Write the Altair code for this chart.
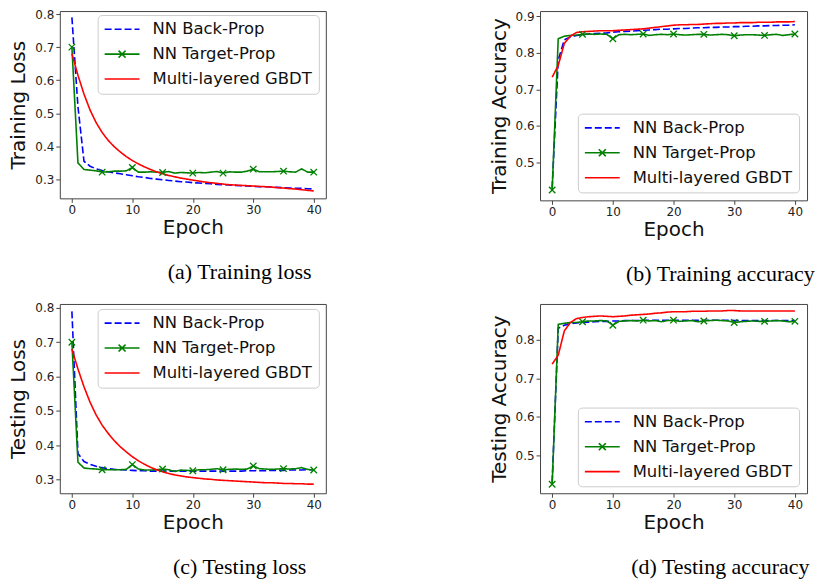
import altair as alt
import pandas as pd

EPOCHS = list(range(41))
SERIES = ["NN Back-Prop", "NN Target-Prop", "Multi-layered GBDT"]
COLORS = ["#0000ff", "#008000", "#ff0000"]
DASHES = [[7, 3], [1, 0], [1, 0]]
LINE_PATH = "M-1,0H1"
LINEX_PATH = "M-1,0H1M-0.2,-0.2L0.2,0.2M-0.2,0.2L0.2,-0.2"
SHAPES = [LINE_PATH, LINEX_PATH, LINE_PATH]
X_PATH = "M-1,-1L1,1M-1,1L1,-1"
X_TICKS = [0, 10, 20, 30, 40]

# (a) Training loss
a_bp = [0.790, 0.520, 0.355, 0.340, 0.332, 0.327, 0.323, 0.320, 0.317, 0.314,
        0.311, 0.308, 0.306, 0.303, 0.301, 0.299, 0.297, 0.295, 0.293, 0.292,
        0.290, 0.289, 0.288, 0.287, 0.285, 0.284, 0.283, 0.282, 0.281, 0.280,
        0.279, 0.278, 0.278, 0.277, 0.276, 0.275, 0.274, 0.273, 0.273, 0.272,
        0.271]
a_tp = [0.700, 0.350, 0.330, 0.328, 0.326, 0.322, 0.323, 0.325, 0.325, 0.326,
        0.336, 0.322, 0.322, 0.323, 0.322, 0.321, 0.324, 0.319, 0.321, 0.320,
        0.319, 0.321, 0.320, 0.322, 0.324, 0.319, 0.323, 0.322, 0.322, 0.325,
        0.331, 0.323, 0.323, 0.323, 0.324, 0.325, 0.323, 0.322, 0.332, 0.322,
        0.322]
a_gb = [0.680, 0.615, 0.558, 0.510, 0.472, 0.442, 0.418, 0.399, 0.383, 0.369,
        0.357, 0.347, 0.338, 0.330, 0.323, 0.317, 0.312, 0.308, 0.304, 0.301,
        0.298, 0.295, 0.292, 0.290, 0.288, 0.286, 0.284, 0.283, 0.282, 0.281,
        0.280, 0.279, 0.278, 0.277, 0.275, 0.274, 0.272, 0.271, 0.269, 0.267,
        0.265]

# (b) Training accuracy
b_bp = [0.430, 0.780, 0.835, 0.843, 0.847, 0.849, 0.851, 0.852, 0.853, 0.854,
        0.856, 0.857, 0.858, 0.859, 0.860, 0.861, 0.862, 0.863, 0.864, 0.864,
        0.865, 0.866, 0.866, 0.867, 0.868, 0.868, 0.869, 0.869, 0.870, 0.870,
        0.871, 0.871, 0.872, 0.872, 0.873, 0.873, 0.874, 0.874, 0.875, 0.875,
        0.876]
b_tp = [0.425, 0.838, 0.845, 0.847, 0.848, 0.850, 0.851, 0.850, 0.851, 0.850,
        0.838, 0.849, 0.850, 0.849, 0.850, 0.851, 0.847, 0.849, 0.850, 0.849,
        0.851, 0.849, 0.848, 0.849, 0.850, 0.850, 0.848, 0.849, 0.850, 0.849,
        0.846, 0.848, 0.849, 0.849, 0.848, 0.847, 0.849, 0.850, 0.847, 0.849,
        0.851]
b_gb = [0.733, 0.765, 0.825, 0.845, 0.855, 0.857, 0.858, 0.859, 0.860, 0.860,
        0.860, 0.861, 0.862, 0.863, 0.864, 0.865, 0.867, 0.869, 0.871, 0.873,
        0.875, 0.876, 0.876, 0.877, 0.877, 0.878, 0.879, 0.880, 0.880, 0.881,
        0.881, 0.882, 0.882, 0.882, 0.883, 0.883, 0.883, 0.884, 0.884, 0.884,
        0.885]

# (c) Testing loss
c_bp = [0.790, 0.375, 0.352, 0.344, 0.338, 0.334, 0.331, 0.329, 0.328, 0.327,
        0.326, 0.325, 0.325, 0.324, 0.324, 0.324, 0.324, 0.324, 0.324, 0.324,
        0.324, 0.324, 0.324, 0.324, 0.324, 0.324, 0.324, 0.324, 0.324, 0.325,
        0.325, 0.325, 0.325, 0.326, 0.326, 0.326, 0.327, 0.327, 0.327, 0.328,
        0.328]
c_tp = [0.700, 0.350, 0.333, 0.331, 0.330, 0.328, 0.328, 0.328, 0.328, 0.329,
        0.343, 0.330, 0.327, 0.327, 0.328, 0.330, 0.328, 0.323, 0.327, 0.326,
        0.325, 0.328, 0.328, 0.329, 0.331, 0.328, 0.329, 0.330, 0.329, 0.330,
        0.339, 0.331, 0.330, 0.329, 0.330, 0.331, 0.330, 0.331, 0.334, 0.329,
        0.327]
c_gb = [0.680, 0.622, 0.570, 0.525, 0.488, 0.458, 0.434, 0.413, 0.395, 0.380,
        0.366, 0.354, 0.344, 0.335, 0.328, 0.322, 0.317, 0.313, 0.310, 0.307,
        0.305, 0.303, 0.301, 0.300, 0.298, 0.297, 0.296, 0.295, 0.294, 0.293,
        0.292, 0.291, 0.290, 0.290, 0.289, 0.288, 0.288, 0.287, 0.287, 0.286,
        0.286]

# (d) Testing accuracy
d_bp = [0.430, 0.830, 0.838, 0.842, 0.844, 0.845, 0.846, 0.847, 0.848, 0.848,
        0.849, 0.849, 0.850, 0.850, 0.850, 0.851, 0.851, 0.851, 0.851, 0.851,
        0.851, 0.851, 0.851, 0.851, 0.851, 0.851, 0.851, 0.851, 0.851, 0.851,
        0.850, 0.850, 0.850, 0.850, 0.850, 0.850, 0.850, 0.850, 0.850, 0.850,
        0.850]
d_tp = [0.425, 0.840, 0.843, 0.845, 0.845, 0.847, 0.849, 0.849, 0.850, 0.849,
        0.838, 0.848, 0.849, 0.850, 0.849, 0.851, 0.849, 0.850, 0.847, 0.850,
        0.851, 0.848, 0.849, 0.850, 0.847, 0.849, 0.850, 0.851, 0.850, 0.849,
        0.845, 0.847, 0.848, 0.849, 0.848, 0.848, 0.849, 0.850, 0.849, 0.847,
        0.848]
d_gb = [0.737, 0.760, 0.823, 0.845, 0.855, 0.858, 0.860, 0.861, 0.862, 0.861,
        0.860, 0.861, 0.862, 0.864, 0.865, 0.866, 0.867, 0.869, 0.870, 0.872,
        0.873, 0.873, 0.873, 0.874, 0.874, 0.874, 0.875, 0.875, 0.875, 0.876,
        0.876, 0.875, 0.875, 0.875, 0.875, 0.875, 0.875, 0.875, 0.875, 0.875,
        0.875]


def long_df(bp, tp, gb):
    rows = []
    for name, vals in zip(SERIES, [bp, tp, gb]):
        assert len(vals) == len(EPOCHS)
        for e, v in zip(EPOCHS, vals):
            rows.append({"epoch": e, "series": name, "value": v})
    return pd.DataFrame(rows)


def panel(df, ytitle, ydom, yticks, caption, width, height, lx, ly, cap_offset):
    legend = alt.Legend(title=None, orient="none", legendX=lx, legendY=ly)
    x = alt.X("epoch:Q", scale=alt.Scale(domain=[-2, 42], nice=False, zero=False),
              axis=alt.Axis(values=X_TICKS, title="Epoch", format="d"))
    y = alt.Y("value:Q", scale=alt.Scale(domain=ydom, nice=False, zero=False),
              axis=alt.Axis(values=yticks, format=".1f", title=ytitle))
    color = alt.Color("series:N", scale=alt.Scale(domain=SERIES, range=COLORS), legend=legend)
    dash = alt.StrokeDash("series:N", scale=alt.Scale(domain=SERIES, range=DASHES), legend=legend)
    shape = alt.Shape("series:N", scale=alt.Scale(domain=SERIES, range=SHAPES), legend=legend)

    lines = alt.Chart(df).mark_line(strokeWidth=1.6, clip=True).encode(
        x=x, y=y, color=color, strokeDash=dash)
    markers = alt.Chart(df).transform_filter(
        "datum.series == 'NN Target-Prop' && datum.epoch % 5 == 0"
    ).mark_point(shape=X_PATH, size=42, color="#008000", strokeWidth=1.3,
                 filled=False, opacity=1, clip=True).encode(x=x, y=y)
    keys = alt.Chart(df).transform_filter("datum.epoch == 0").mark_point(
        size=0, opacity=1, filled=False).encode(x=x, y=y, color=color, shape=shape, strokeDash=dash)

    return alt.layer(lines, markers, keys).properties(
        width=width, height=height,
        title=alt.TitleParams(caption, orient="bottom", anchor="middle", frame="group",
                              dx=47, offset=cap_offset, font="Liberation Serif", fontSize=22,
                              fontWeight="normal", color="#000000"),
    )


pa = panel(long_df(a_bp, a_tp, a_gb), "Training Loss", [0.24277, 0.80904],
           [0.3, 0.4, 0.5, 0.6, 0.7, 0.8], "(a) Training loss", 267, 188, 38, 4, 25)
pb = panel(long_df(b_bp, b_tp, b_gb), "Training Accuracy", [0.39660, 0.91361],
           [0.5, 0.6, 0.7, 0.8, 0.9], "(b) Training accuracy", 268, 190, 38, 103, 25)
pc = panel(long_df(c_bp, c_tp, c_gb), "Testing Loss", [0.25930, 0.81163],
           [0.3, 0.4, 0.5, 0.6, 0.7, 0.8], "(c) Testing loss", 267, 190, 38, 5, 25)
pd_ = panel(long_df(d_bp, d_tp, d_gb), "Testing Accuracy", [0.40173, 0.89310],
            [0.5, 0.6, 0.7, 0.8], "(d) Testing accuracy", 268, 190, 38, 104, 25)

IND = dict(color="independent", strokeDash="independent", shape="independent")

row1 = alt.hconcat(pa, pb, spacing=162).resolve_scale(**IND).resolve_legend(**IND)
row2 = alt.hconcat(pc, pd_, spacing=162).resolve_scale(**IND).resolve_legend(**IND)

chart = alt.vconcat(row1, row2, spacing=15).resolve_scale(**IND).resolve_legend(**IND).properties(
    padding={"left": 0, "top": -2, "right": 0, "bottom": 0},
    background="#ffffff",
).configure_view(
    stroke="#444444", strokeWidth=1
).configure_axis(
    domain=False, grid=False, ticks=True, tickColor="#444444", tickSize=4, tickWidth=1,
    labelFont="DejaVu Sans", labelFontSize=12, labelColor="#222222", labelPadding=2,
    labelFlush=False,
    titleFont="DejaVu Sans", titleFontSize=20, titleFontWeight="normal", titleColor="#111111",
).configure_axisY(
    titlePadding=6
).configure_axisX(
    titlePadding=2
).configure_legend(
    labelFont="DejaVu Sans", labelFontSize=16.5, labelColor="#111111", labelLimit=400,
    symbolSize=1225, symbolStrokeWidth=1.6, strokeColor="#cccccc", clipHeight=16.5,
    fillColor="rgba(255,255,255,0.85)", padding=6, cornerRadius=4, rowPadding=8,
    labelOffset=12,
)

chart.save("out.html", embed_options={"renderer": "svg", "actions": False})
